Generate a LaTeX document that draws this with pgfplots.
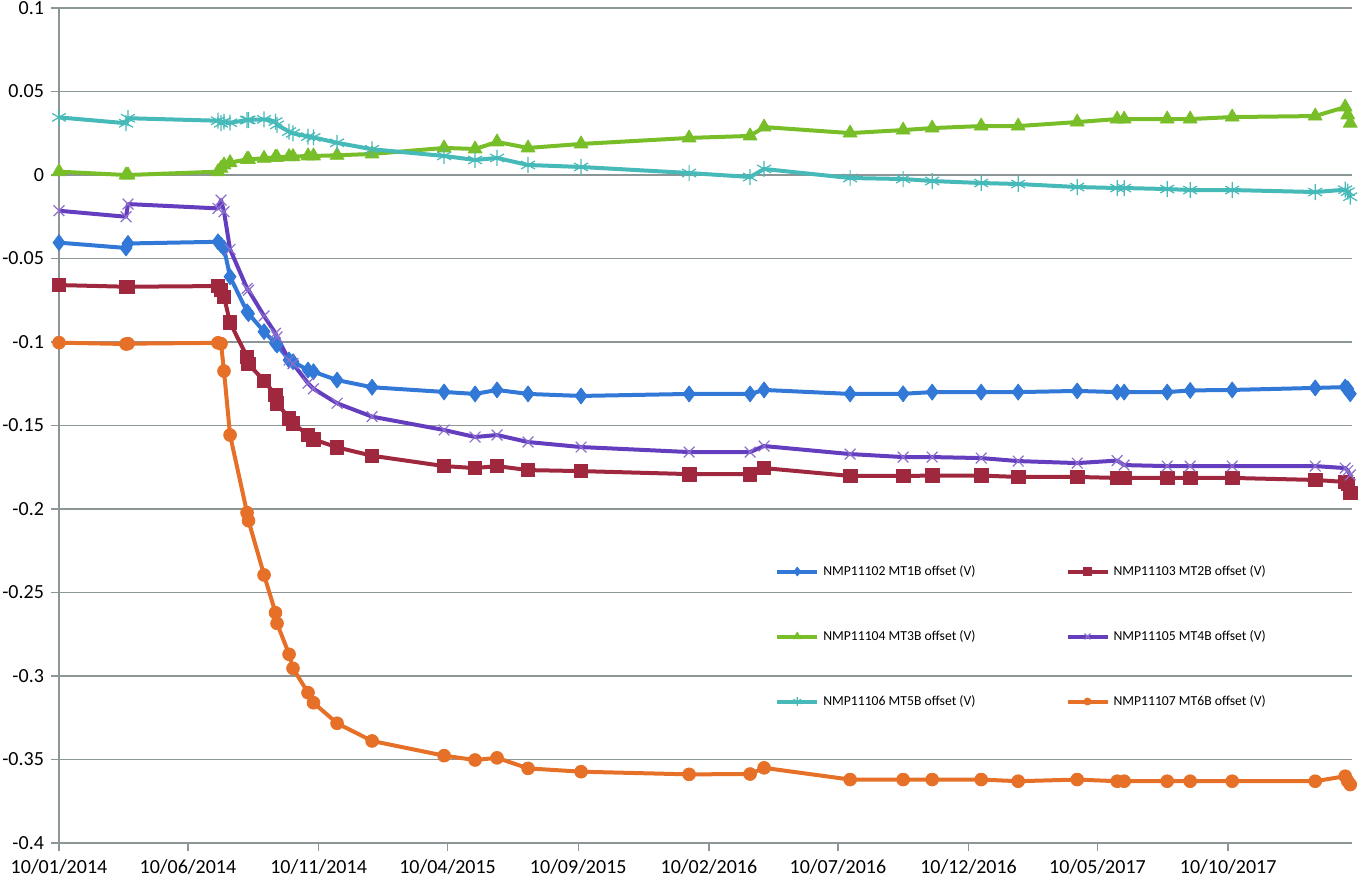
\documentclass[border=0pt]{standalone}
\usepackage{fontspec}
\setmainfont{Carlito}
\usepackage{pgfplots}
\pgfplotsset{compat=1.18}
\usepackage{pgfplotstable}

\definecolor{cblue}{RGB}{50,120,215}
\definecolor{cred}{RGB}{160,40,62}
\definecolor{cgreen}{RGB}{120,190,40}
\definecolor{cpurple}{RGB}{100,62,190}
\definecolor{ccyan}{RGB}{70,185,185}
\definecolor{corange}{RGB}{230,112,40}
\definecolor{gridgray}{RGB}{140,150,150}

\pgfplotstableread{
d b r g p c o
0 -0.0405 -0.0659 0.0020 -0.0214 0.0345 -0.1004
78.5 -0.0437 -0.0669 0.0000 -0.0250 0.0310 -0.1012
80.8 -0.0410 -0.0669 0.0000 -0.0174 0.0340 -0.1010
186.2 -0.0400 -0.0665 0.0020 -0.0200 0.0325 -0.1005
189.7 -0.0419 -0.0689 0.0040 -0.0150 0.0310 -0.1010
193.2 -0.0439 -0.0729 0.0060 -0.0220 0.0320 -0.1174
200.3 -0.0609 -0.0884 0.0074 -0.0445 0.0313 -0.1557
220.2 -0.0819 -0.1088 0.0094 -0.0679 0.0329 -0.2022
221.9 -0.0830 -0.1132 0.0094 -0.0690 0.0330 -0.2070
240.1 -0.0938 -0.1232 0.0100 -0.0844 0.0333 -0.2395
253.5 -0.1008 -0.1317 0.0106 -0.0948 0.0320 -0.2621
255.3 -0.1018 -0.1367 0.0106 -0.0970 0.0300 -0.2685
269.4 -0.1108 -0.1457 0.0110 -0.1108 0.0260 -0.2870
274.0 -0.1118 -0.1487 0.0110 -0.1130 0.0250 -0.2954
291.6 -0.1168 -0.1557 0.0114 -0.1247 0.0230 -0.3100
298.0 -0.1178 -0.1583 0.0114 -0.1280 0.0225 -0.3160
325.6 -0.1228 -0.1631 0.0118 -0.1367 0.0193 -0.3283
366.6 -0.1271 -0.1681 0.0126 -0.1447 0.0154 -0.3389
450.9 -0.1299 -0.1743 0.0162 -0.1527 0.0114 -0.3477
487.2 -0.1311 -0.1755 0.0156 -0.1569 0.0090 -0.3503
512.9 -0.1287 -0.1743 0.0198 -0.1557 0.0102 -0.3490
549.2 -0.1311 -0.1767 0.0162 -0.1599 0.0060 -0.3553
611.3 -0.1323 -0.1773 0.0186 -0.1629 0.0048 -0.3573
737.8 -0.1311 -0.1791 0.0222 -0.1659 0.0012 -0.3589
809.2 -0.1311 -0.1791 0.0234 -0.1659 -0.0012 -0.3587
825.6 -0.1287 -0.1755 0.0287 -0.1623 0.0036 -0.3550
926.3 -0.1311 -0.1802 0.0251 -0.1671 -0.0018 -0.3620
988.4 -0.1310 -0.1802 0.0269 -0.1689 -0.0024 -0.3620
1022.4 -0.1300 -0.1800 0.0281 -0.1689 -0.0036 -0.3620
1079.8 -0.1300 -0.1800 0.0293 -0.1695 -0.0048 -0.3620
1123.1 -0.1300 -0.1808 0.0293 -0.1713 -0.0054 -0.3630
1192.2 -0.1293 -0.1808 0.0317 -0.1725 -0.0072 -0.3620
1239.0 -0.1300 -0.1814 0.0335 -0.1710 -0.0078 -0.3630
1247.2 -0.1300 -0.1814 0.0335 -0.1737 -0.0078 -0.3630
1297.6 -0.1300 -0.1814 0.0335 -0.1743 -0.0084 -0.3630
1324.5 -0.1290 -0.1814 0.0335 -0.1743 -0.0090 -0.3630
1373.7 -0.1287 -0.1814 0.0347 -0.1743 -0.0090 -0.3630
1470.9 -0.1275 -0.1826 0.0353 -0.1743 -0.0102 -0.3630
1506.0 -0.1270 -0.1838 0.0407 -0.1755 -0.0088 -0.3600
1509.0 -0.1280 -0.1850 0.0360 -0.1770 -0.0100 -0.3630
1511.9 -0.1310 -0.1904 0.0310 -0.1796 -0.0130 -0.3650
}\data

\begin{document}
\begin{tikzpicture}
\useasboundingbox (0,0) rectangle (681.5pt,439.5pt);
\begin{axis}[
  at={(29.5pt,18pt)}, anchor=south west,
  scale only axis, width=646.5pt, height=417.5pt,
  xmin=0, xmax=1514, ymin=-0.4, ymax=0.1,
  axis x line=bottom, axis y line=left,
  axis line style={-, draw=gridgray, line width=0.7pt},
  xtick={0,151,304,455,608,761,912,1065,1216,1369},
  xticklabels={10/01/2014,10/06/2014,10/11/2014,10/04/2015,10/09/2015,10/02/2016,10/07/2016,10/12/2016,10/05/2017,10/10/2017},
  ytick={-0.4,-0.35,-0.3,-0.25,-0.2,-0.15,-0.1,-0.05,0,0.05,0.1},
  yticklabels={-0.4,-0.35,-0.3,-0.25,-0.2,-0.15,-0.1,-0.05,0,0.05,0.1},
  tick align=outside, major tick length=4pt,
  tick style={draw=gridgray, line width=0.7pt},
  ymajorgrids, grid style={draw=gridgray, line width=0.7pt},
  ticklabel style={font=\fontsize{10}{12}\selectfont, text=black},
  xticklabel style={yshift=-1pt},
  line join=round,
  legend columns=2,
  legend style={at={(0.549,0.343)}, anchor=north west, draw=none, fill=none,
    font=\fontsize{6.85}{8}\selectfont, row sep=22pt,
    /tikz/every even column/.append style={column sep=43pt}},
  legend image code/.code={\draw[mark repeat=2,mark phase=2,#1,/tikz/every mark/.append style={scale=0.55}] plot coordinates {(0pt,0pt)(10pt,0pt)(20pt,0pt)};},
]
\addplot[cblue, line width=2pt, mark=diamond*, mark size=4pt, mark options={line width=0.4pt}] table[x=d,y=b]{\data};
\addlegendentry{NMP11102 MT1B offset (V)}
\addplot[cred, line width=2pt, mark=square*, mark size=3.4pt, mark options={line width=0.4pt}] table[x=d,y=r]{\data};
\addlegendentry{NMP11103 MT2B offset (V)}
\addplot[cgreen, line width=2pt, mark=triangle*, mark size=4pt, mark options={line width=0.4pt}] table[x=d,y=g]{\data};
\addlegendentry{NMP11104 MT3B offset (V)}
\addplot[cpurple, line width=2pt, mark=x, mark size=3.8pt, mark options={line width=0.6pt, draw=cpurple!75}] table[x=d,y=p]{\data};
\addlegendentry{NMP11105 MT4B offset (V)}
\addplot[ccyan, line width=2pt, mark=asterisk, mark size=4pt, mark options={line width=0.6pt}] table[x=d,y=c]{\data};
\addlegendentry{NMP11106 MT5B offset (V)}
\addplot[corange, line width=2pt, mark=*, mark size=3.2pt, mark options={line width=0.4pt}] table[x=d,y=o]{\data};
\addlegendentry{NMP11107 MT6B offset (V)}
\end{axis}
\end{tikzpicture}
\end{document}
